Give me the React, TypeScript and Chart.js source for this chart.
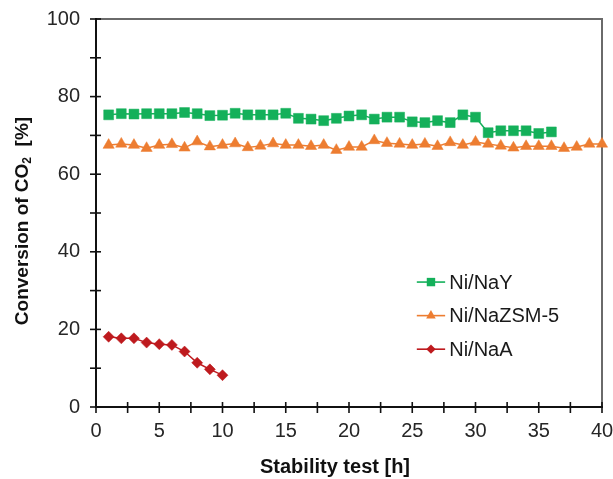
import React, { useEffect, useRef } from 'react';
import { Chart, registerables } from 'chart.js';

Chart.register(...registerables);

const hoursNaY = [1, 2, 3, 4, 5, 6, 7, 8, 9, 10, 11, 12, 13, 14, 15, 16, 17, 18, 19, 20, 21, 22, 23, 24, 25, 26, 27, 28, 29, 30, 31, 32, 33, 34, 35, 36];
const convNaY = [75.3, 75.6, 75.5, 75.6, 75.6, 75.6, 75.9, 75.6, 75.1, 75.2, 75.7, 75.3, 75.3, 75.3, 75.7, 74.4, 74.2, 73.8, 74.4, 75.0, 75.3, 74.2, 74.7, 74.7, 73.5, 73.3, 73.8, 73.3, 75.3, 74.7, 70.7, 71.2, 71.2, 71.2, 70.5, 70.9];

const hoursZSM = [1, 2, 3, 4, 5, 6, 7, 8, 9, 10, 11, 12, 13, 14, 15, 16, 17, 18, 19, 20, 21, 22, 23, 24, 25, 26, 27, 28, 29, 30, 31, 32, 33, 34, 35, 36, 37, 38, 39, 40];
const convZSM = [67.5, 67.8, 67.5, 66.7, 67.5, 67.7, 66.8, 68.4, 67.1, 67.5, 67.9, 66.9, 67.3, 67.9, 67.5, 67.5, 67.2, 67.5, 66.2, 67.0, 67.0, 68.7, 68.0, 67.8, 67.5, 67.8, 67.2, 68.2, 67.5, 68.3, 67.8, 67.3, 66.8, 67.2, 67.2, 67.2, 66.7, 67.0, 67.8, 67.8];

const hoursNaA = [1, 2, 3, 4, 5, 6, 7, 8, 9, 10];
const convNaA = [18.1, 17.7, 17.7, 16.6, 16.2, 16.0, 14.3, 11.4, 9.7, 8.2];

const seriesLabels = ['Ni/NaY', 'Ni/NaZSM-5', 'Ni/NaA'];
const seriesColors = ['#14B05A', '#ED7D31', '#BE1A1E'];
const seriesStyles = ['rect', 'triangle', 'rectRot'];
const seriesRadius = [7, 6.5, 5.5];

const xMin = 0;
const xMax = 40;
const xStep = 5;
const xMinorStep = 2.5;
const yMin = 0;
const yMax = 100;
const yStep = 20;
const yMinorStep = 10;

const xTitle = 'Stability test [h]';
const yTitleMain = 'Conversion of CO';
const yTitleSub = '2';
const yTitleTail = '  [%]';

const FONT = '"Liberation Sans", Arial, sans-serif';

function drawMarker(ctx: CanvasRenderingContext2D, style: string, x: number, y: number, r: number) {
  ctx.beginPath();
  if (style === 'rect') {
    const s = Math.SQRT1_2 * r;
    ctx.rect(x - s, y - s, 2 * s, 2 * s);
  } else if (style === 'triangle') {
    for (let k = 0; k < 3; k++) {
      const a = -Math.PI / 2 + (k * 2 * Math.PI) / 3;
      const px = x + Math.cos(a) * r;
      const py = y + Math.sin(a) * r;
      if (k === 0) ctx.moveTo(px, py);
      else ctx.lineTo(px, py);
    }
    ctx.closePath();
  } else {
    ctx.moveTo(x, y - r);
    ctx.lineTo(x + r, y);
    ctx.lineTo(x, y + r);
    ctx.lineTo(x - r, y);
    ctx.closePath();
  }
  ctx.fill();
}

const framePlugin = {
  id: 'frame',
  beforeDatasetsDraw(chart: any) {
    const { ctx, chartArea } = chart;
    const { left, right, top, bottom } = chartArea;
    const xs = chart.scales.x;
    const ys = chart.scales.y;
    ctx.save();
    ctx.lineCap = 'butt';
    ctx.strokeStyle = '#6a6a6a';
    ctx.lineWidth = 2;
    ctx.beginPath();
    ctx.moveTo(left, top);
    ctx.lineTo(right, top);
    ctx.lineTo(right, bottom);
    ctx.stroke();

    ctx.strokeStyle = '#111';
    ctx.lineWidth = 2;
    ctx.beginPath();
    ctx.moveTo(left, top - 1);
    ctx.lineTo(left, bottom);
    ctx.lineTo(right + 1, bottom);
    ctx.stroke();

    ctx.lineWidth = 1.6;
    for (let v = xMin; v <= xMax + 1e-9; v += xMinorStep) {
      const px = xs.getPixelForValue(v);
      ctx.beginPath();
      ctx.moveTo(px, bottom - 5);
      ctx.lineTo(px, bottom + 6);
      ctx.stroke();
    }
    for (let v = yMin; v <= yMax + 1e-9; v += yMinorStep) {
      const py = ys.getPixelForValue(v);
      ctx.beginPath();
      ctx.moveTo(left - 6, py);
      ctx.lineTo(left + 5, py);
      ctx.stroke();
    }
    ctx.restore();
  },
  afterDraw(chart: any) {
    const { ctx, chartArea } = chart;
    const { left, right, top, bottom } = chartArea;
    const w = right - left;
    const h = bottom - top;
    ctx.save();
    // x title
    ctx.fillStyle = '#111';
    ctx.font = `bold 20px ${FONT}`;
    ctx.textAlign = 'center';
    ctx.textBaseline = 'middle';
    ctx.fillText(xTitle, left + w / 2 - 14, bottom + 60);

    // y title with subscript
    const mainFont = `bold 19px ${FONT}`;
    const subFont = `bold 12px ${FONT}`;
    ctx.font = mainFont;
    const w1 = ctx.measureText(yTitleMain).width;
    const w3 = ctx.measureText(yTitleTail).width;
    ctx.font = subFont;
    const w2 = ctx.measureText(yTitleSub).width;
    const total = w1 + w2 + w3;
    ctx.translate(23, top + h / 2 + 8);
    ctx.rotate(-Math.PI / 2);
    ctx.textAlign = 'left';
    ctx.textBaseline = 'middle';
    ctx.font = mainFont;
    ctx.fillText(yTitleMain, -total / 2, 0);
    ctx.font = subFont;
    ctx.fillText(yTitleSub, -total / 2 + w1, 5);
    ctx.font = mainFont;
    ctx.fillText(yTitleTail, -total / 2 + w1 + w2, 0);
    ctx.restore();

    // legend
    ctx.save();
    const x0 = left + 0.634 * w;
    const x1 = left + 0.69 * w;
    const tx = left + 0.698 * w;
    chart.data.datasets.forEach((ds: any, i: number) => {
      const cy = top + (0.678 + i * 0.0865) * h;
      ctx.strokeStyle = ds.borderColor;
      ctx.fillStyle = ds.backgroundColor;
      ctx.lineWidth = 1.6;
      ctx.beginPath();
      ctx.moveTo(x0, cy);
      ctx.lineTo(x1, cy);
      ctx.stroke();
      drawMarker(ctx, seriesStyles[i], (x0 + x1) / 2, cy, seriesRadius[i] * 0.85);
      ctx.fillStyle = '#1a1a1a';
      ctx.font = `20px ${FONT}`;
      ctx.textAlign = 'left';
      ctx.textBaseline = 'middle';
      ctx.fillText(ds.label, tx, cy + 1);
    });
    ctx.restore();
  },
};

function makeData(xs: number[], ys: number[]) {
  return xs.map((x, i) => ({ x, y: ys[i] }));
}

export default function App() {
  const ref = useRef<HTMLCanvasElement | null>(null);
  useEffect(() => {
    if (!ref.current) return;
    const sets = [
      makeData(hoursNaY, convNaY),
      makeData(hoursZSM, convZSM),
      makeData(hoursNaA, convNaA),
    ];
    const chart = new Chart(ref.current, {
      type: 'line',
      data: {
        datasets: sets.map((d, i) => ({
          label: seriesLabels[i],
          data: d,
          borderColor: seriesColors[i],
          backgroundColor: seriesColors[i],
          borderWidth: 1.5,
          pointStyle: seriesStyles[i] as any,
          pointRadius: seriesRadius[i],
          pointBorderWidth: 0.5,
          pointBackgroundColor: seriesColors[i],
          pointBorderColor: seriesColors[i],
          tension: 0,
          clip: false as any,
        })),
      },
      options: {
        animation: false,
        responsive: false,
        layout: { padding: { left: 0, top: 19, right: 11, bottom: 0 } },
        plugins: {
          legend: { display: false },
          tooltip: { enabled: false },
        },
        scales: {
          x: {
            type: 'linear',
            min: xMin,
            max: xMax,
            grid: { display: false, drawTicks: false },
            border: { display: false },
            ticks: {
              stepSize: xStep,
              padding: 12,
              color: '#262626',
              font: { family: FONT, size: 20 },
              maxRotation: 0,
            },
            afterFit: (s: any) => {
              s.height = 72;
              s.paddingLeft = 0;
              s.paddingRight = 0;
            },
          },
          y: {
            type: 'linear',
            min: yMin,
            max: yMax,
            grid: { display: false, drawTicks: false },
            border: { display: false },
            ticks: {
              stepSize: yStep,
              padding: 16,
              color: '#262626',
              font: { family: FONT, size: 20 },
            },
            afterFit: (s: any) => {
              s.width = 96;
              s.paddingTop = 0;
              s.paddingBottom = 0;
            },
          },
        },
      },
      plugins: [framePlugin],
    });
    return () => chart.destroy();
  }, []);
  return (
    <div style={{ position: 'fixed', left: 0, top: 0, width: 613, height: 479, background: '#fff' }}>
      <canvas ref={ref} width={613} height={479} />
    </div>
  );
}
